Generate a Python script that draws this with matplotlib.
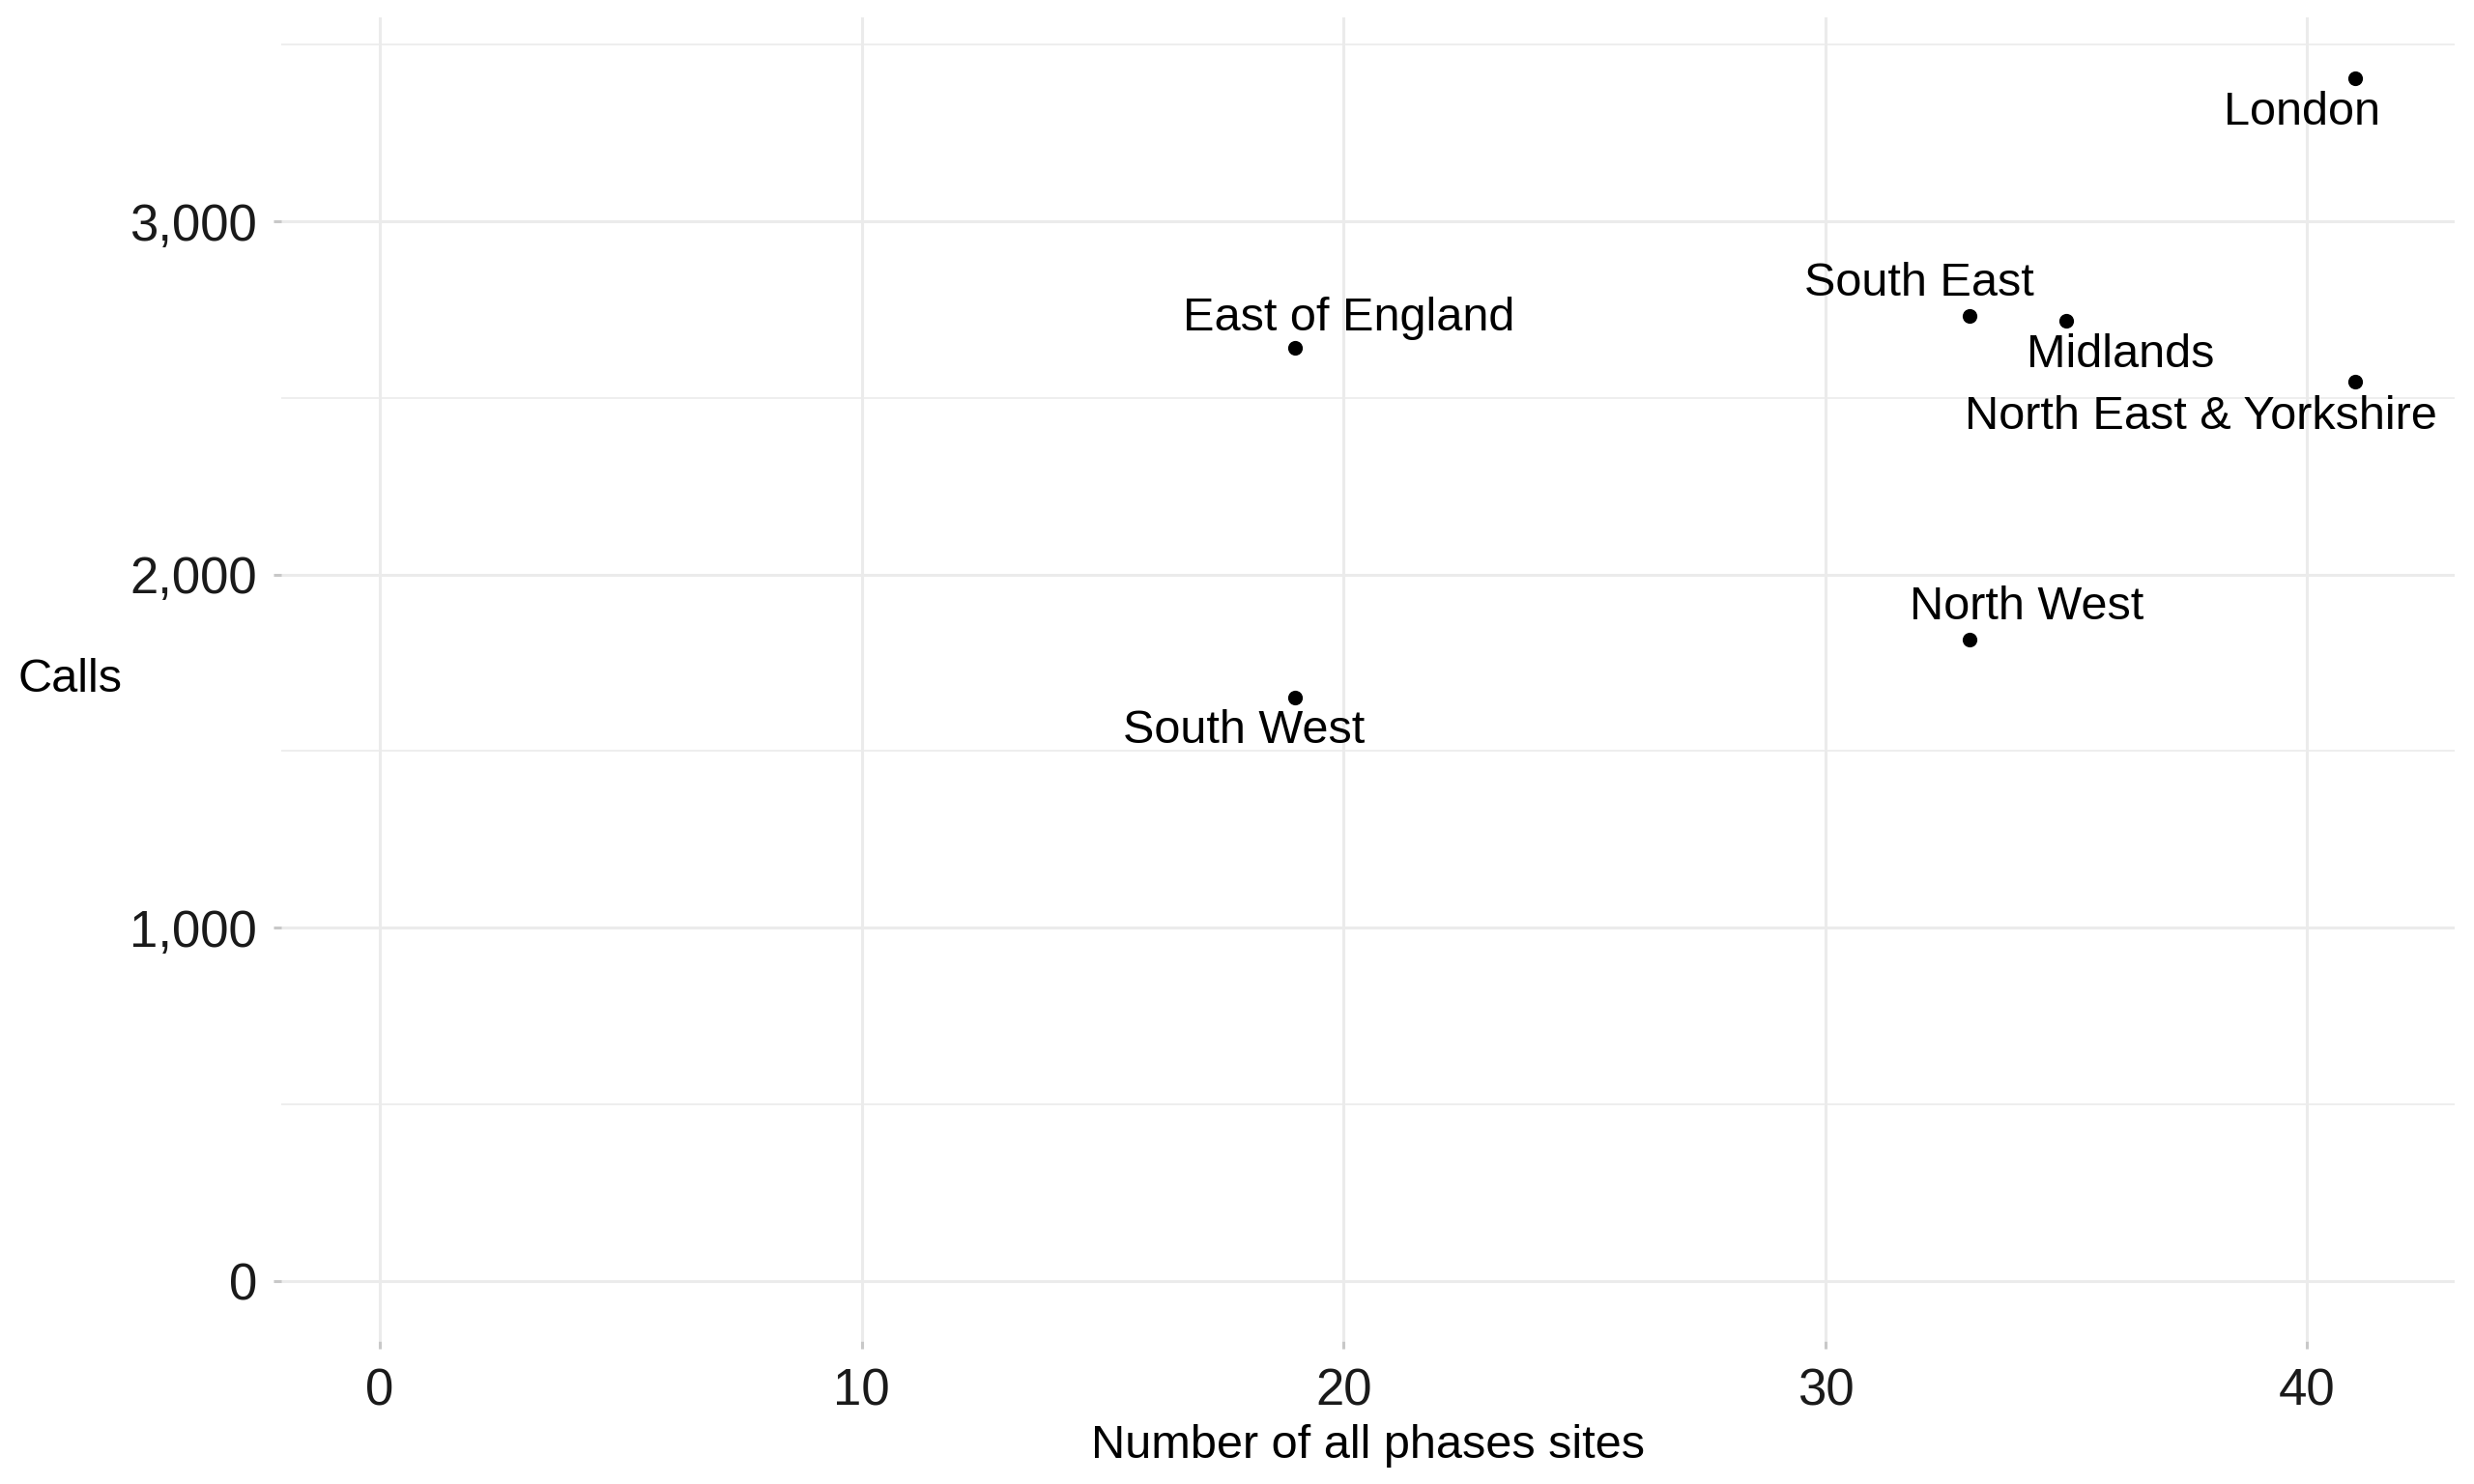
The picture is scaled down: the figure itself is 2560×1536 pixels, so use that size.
import numpy as np
import matplotlib
matplotlib.use("Agg")
import matplotlib.pyplot as plt
from matplotlib.ticker import FuncFormatter, MultipleLocator

plt.rcParams['font.family'] = ['Liberation Sans', 'DejaVu Sans']

regions = ["London", "South East", "Midlands", "North East & Yorkshire",
           "East of England", "North West", "South West"]
sites = [41, 33, 35, 41, 19, 33, 19]
calls = [3406, 2732, 2719, 2545, 2643, 1817, 1652]

# label offsets in points (ggrepel-ish placement)
offsets = {
    "London": (-20, -13),
    "South East": (-19, 12),
    "Midlands": (20, -13),
    "North East & Yorkshire": (-57.5, -13),
    "East of England": (20, 11),
    "North West": (21, 12),
    "South West": (-19, -12.5),
}

grid_col = "#ebebeb"
fs_lab = 17.5
fs_tick = 19

fig = plt.figure(figsize=(12.8, 7.68), dpi=200)
ax = fig.add_axes([0.1136, 0.0964, 0.8784, 0.8916])

ax.scatter(sites, calls, s=30, color="black", zorder=3, linewidths=0)
for name, x, y in zip(regions, sites, calls):
    dx, dy = offsets[name]
    ax.annotate(name, (x, y), xytext=(dx, dy), textcoords="offset points",
                ha="center", va="center", fontsize=fs_lab, color="black", zorder=4)

xmax = max(sites)
ymax = max(calls)
ax.set_xlim(-0.05 * xmax, xmax * 1.05)
ax.set_ylim(-0.05 * ymax, ymax * 1.05)

ax.xaxis.set_major_locator(MultipleLocator(10))
ax.yaxis.set_major_locator(MultipleLocator(1000))
ax.yaxis.set_minor_locator(MultipleLocator(500))
ax.yaxis.set_major_formatter(FuncFormatter(lambda v, p: f"{int(v):,}"))

ax.grid(True, which="major", color=grid_col, linewidth=1.1, zorder=0)
ax.grid(True, which="minor", axis="y", color=grid_col, linewidth=0.6, zorder=0)
ax.set_axisbelow(True)
for s in ax.spines.values():
    s.set_visible(False)

ax.tick_params(axis="both", which="major", length=3, width=1.1, color="#c8c8c8",
               labelsize=fs_tick, labelcolor="#1a1a1a", pad=6)
ax.tick_params(axis="x", which="major", pad=7)
ax.tick_params(axis="y", which="minor", length=0)

ax.set_xlabel("Number of all phases sites", fontsize=17.5, labelpad=3)
ax.set_ylabel("Calls", fontsize=17.5, rotation=0, va="center", ha="center")
ax.yaxis.set_label_coords(-0.097, 0.5)

fig.savefig("out.png", dpi=200, facecolor="white")
